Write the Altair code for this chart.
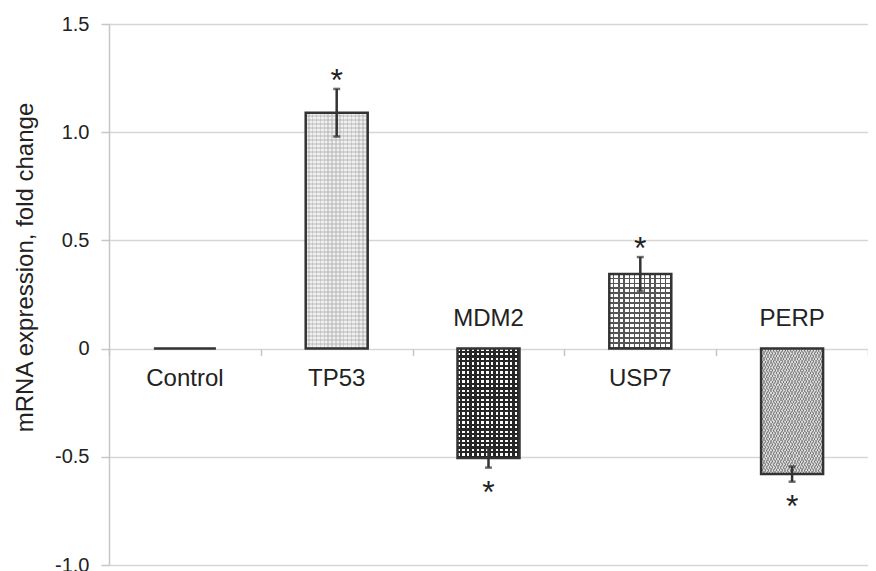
import altair as alt
import pandas as pd

genes = ["Control", "TP53", "MDM2", "USP7", "PERP"]
values = [0.0, 1.09, -0.505, 0.345, -0.58]
errors = [0.0, 0.11, 0.045, 0.078, 0.035]
stars = ["", "*", "*", "*", "*"]
base_fills = ["#bdbdbd", "#f0f0f0", "#ffffff", "#ffffff", "#d8d8d8"]
y_ticks = [-1.0, -0.5, 0.0, 0.5, 1.0, 1.5]
y_domain = [-1.0, 1.5]

df = pd.DataFrame({"gene": genes, "value": values, "err": errors,
                   "star": stars, "fill": base_fills})

W, H = 759, 541
zero_from_bottom = H * (0 - y_domain[0]) / (y_domain[1] - y_domain[0])
FONT = "Liberation Sans"
INK = "#333333"


def stripes(n, color, duty, direction):
    """Repeating hard-edged stripe gradient (used as a hatch texture)."""
    clear = "rgba(255,255,255,0)"
    stops = []
    for k in range(n):
        a = k / n
        b = (k + 1 - duty) / n
        c = (k + 1) / n
        stops += [alt.GradientStop(offset=a, color=clear),
                  alt.GradientStop(offset=b, color=clear),
                  alt.GradientStop(offset=b, color=color),
                  alt.GradientStop(offset=c, color=color)]
    if direction == "v":
        x1, y1, x2, y2 = 0, 0, 1, 0
    elif direction == "h":
        x1, y1, x2, y2 = 0, 0, 0, 1
    elif direction == "d1":
        x1, y1, x2, y2 = 0, 0, 1, 1
    else:
        x1, y1, x2, y2 = 1, 0, 0, 1
    return alt.LinearGradient(gradient="linear", stops=stops,
                              x1=x1, y1=y1, x2=x2, y2=y2)


base = alt.Chart(df).transform_calculate(
    lo="datum.value - datum.err",
    hi="datum.value + datum.err",
    star_y="datum.value >= 0 ? datum.value + datum.err : datum.value - datum.err",
)

y_scale = alt.Scale(domain=y_domain, nice=False, zero=False)
x_plain = alt.X("gene:N", sort=genes)

x_enc = alt.X(
    "gene:N", sort=genes,
    scale=alt.Scale(domain=genes, paddingInner=0, paddingOuter=0),
    axis=alt.Axis(title=None, labels=False, domain=False, grid=False,
                  ticks=True, tickBand="extent", tickSize=7,
                  tickColor="#c6c6c6", tickWidth=1.5,
                  offset=-zero_from_bottom),
)

bars = base.mark_bar(width=62, strokeWidth=0).encode(
    x=x_enc,
    y=alt.Y("value:Q", scale=y_scale,
            axis=alt.Axis(
                values=y_ticks, title="mRNA expression, fold change",
                labelExpr="datum.value == 0 ? '0' : (datum.value < 0 ? '-' + format(-datum.value, '.1f') : format(datum.value, '.1f'))",
                labelFont=FONT, labelFontSize=20, labelColor="#222222",
                labelPadding=12,
                titleFont=FONT, titleFontSize=24, titleFontWeight="normal",
                titleColor="#222222", titleAngle=-90, titleBaseline="middle",
                titleAlign="center", titleX=-84, titleY=243,
                grid=True, gridColor="#d6d6d6", gridWidth=1.5,
                domainColor="#c6c6c6", domainWidth=1.5,
                tickColor="#c6c6c6", tickWidth=1.5, tickSize=8)),
    y2=alt.YDatum(0),
    fill=alt.Fill("fill:N", scale=None),
)


def texture(gene, grad):
    return base.transform_filter(alt.datum.gene == gene).mark_bar(
        width=62, strokeWidth=0, fill=grad
    ).encode(x=x_plain, y=alt.Y("value:Q", scale=y_scale), y2=alt.YDatum(0))


textures = [
    texture("TP53", stripes(16, "rgba(160,160,160,0.35)", 0.4, "v")),
    texture("TP53", stripes(59, "rgba(160,160,160,0.35)", 0.4, "h")),
    texture("MDM2", stripes(13, "#262626", 0.5, "v")),
    texture("MDM2", stripes(24, "#262626", 0.5, "h")),
    texture("USP7", stripes(12, "#555555", 0.28, "v")),
    texture("USP7", stripes(15, "#555555", 0.28, "h")),
    texture("PERP", stripes(44, "rgba(90,90,90,0.55)", 0.35, "d1")),
    texture("PERP", stripes(44, "rgba(90,90,90,0.45)", 0.35, "d2")),
]

outline = base.mark_bar(width=62, stroke=INK, strokeWidth=2.5,
                        fillOpacity=0).encode(
    x=x_plain, y=alt.Y("value:Q", scale=y_scale), y2=alt.YDatum(0))

err_df = base.transform_filter("datum.err > 0")

err_rule = err_df.mark_rule(color=INK, strokeWidth=2.5).encode(
    x=x_plain, y=alt.Y("lo:Q", scale=y_scale), y2="hi:Q")
cap_lo = err_df.mark_tick(color=INK, thickness=2.5, size=7).encode(
    x=x_plain, y=alt.Y("lo:Q", scale=y_scale))
cap_hi = err_df.mark_tick(color=INK, thickness=2.5, size=7).encode(
    x=x_plain, y=alt.Y("hi:Q", scale=y_scale))

star_pos = err_df.transform_filter("datum.value >= 0").mark_text(
    font=FONT, fontSize=32, color="#222222", baseline="middle", dy=-8
).encode(x=x_plain, y=alt.Y("star_y:Q", scale=y_scale), text="star:N")
star_neg = err_df.transform_filter("datum.value < 0").mark_text(
    font=FONT, fontSize=32, color="#222222", baseline="middle", dy=25
).encode(x=x_plain, y=alt.Y("star_y:Q", scale=y_scale), text="star:N")

lab_below = base.transform_filter("datum.value >= 0").mark_text(
    font=FONT, fontSize=24, color="#222222", baseline="middle", dy=30
).encode(x=x_plain, y=alt.YDatum(0), text="gene:N")
lab_above = base.transform_filter("datum.value < 0").mark_text(
    font=FONT, fontSize=24, color="#222222", baseline="middle", dy=-30
).encode(x=x_plain, y=alt.YDatum(0), text="gene:N")

chart = alt.layer(
    bars, *textures, outline, err_rule, cap_lo, cap_hi,
    star_pos, star_neg, lab_below, lab_above
).properties(
    width=W, height=H,
    autosize=alt.AutoSizeParams(type="none"),
    padding={"left": 101, "top": 16, "right": 0, "bottom": 8},
).configure_view(stroke=None).configure(background="white")

chart.save("out.html", embed_options={"renderer": "svg", "actions": False})
